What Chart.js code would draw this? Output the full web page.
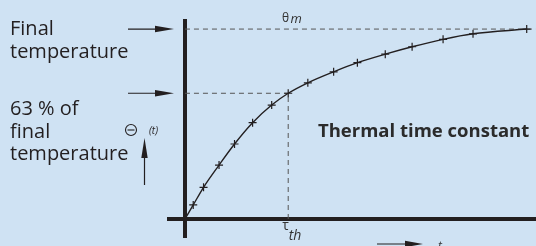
<!DOCTYPE html>
<html>
<head>
<meta charset="utf-8">
<script src="https://cdn.jsdelivr.net/npm/chart.js@4"></script>
<style>
  body { margin: 0; background: #cfe2f3; }
  #wrap { width: 536px; height: 246px; }
</style>
</head>
<body>
<div id="wrap"><canvas id="chart" width="536" height="246"></canvas></div>
<script>
// time in units of tau, temperature as fraction of final value
var times = [0, 0.08, 0.18, 0.33, 0.48, 0.655, 0.84, 1.0, 1.19, 1.44, 1.67, 1.94, 2.2, 2.5, 2.79, 3.31];
var temps = [0, 0.074, 0.167, 0.284, 0.395, 0.507, 0.6, 0.662, 0.717, 0.775, 0.823, 0.868, 0.907, 0.946, 0.975, 1.0];
var tau = 1.0;
var tempAtTau = 0.662;
var finalTemp = 1.0;
var xMin = -0.174, xMax = 3.4;
var yMin = -0.1, yMax = 1.053;

var ink = '#231f20';

function pts(xs, ys) {
    var out = [];
    for (var i = 0; i < xs.length; i++) out.push({ x: xs[i], y: ys[i] });
    return out;
}

function arrow(ctx, x1, y1, x2, y2, head, half) {
    var a = Math.atan2(y2 - y1, x2 - x1);
    ctx.beginPath();
    ctx.moveTo(x1, y1);
    ctx.lineTo(x2 - Math.cos(a) * head * 0.5, y2 - Math.sin(a) * head * 0.5);
    ctx.stroke();
    ctx.beginPath();
    ctx.moveTo(x2, y2);
    ctx.lineTo(x2 - Math.cos(a) * head - Math.sin(a) * half, y2 - Math.sin(a) * head + Math.cos(a) * half);
    ctx.lineTo(x2 - Math.cos(a) * head + Math.sin(a) * half, y2 - Math.sin(a) * head - Math.cos(a) * half);
    ctx.closePath();
    ctx.fill();
}

var labels = {
    id: 'labels',
    afterDraw: function(chart) {
        var ctx = chart.ctx;
        var xs = chart.scales.x, ys = chart.scales.y;
        ctx.save();
        ctx.fillStyle = ink;
        ctx.strokeStyle = ink;
        ctx.textBaseline = 'alphabetic';
        ctx.textAlign = 'left';
        ctx.font = '20px "Open Sans"';
        ctx.fillText('Final', 10, 35);
        ctx.fillText('temperature', 10, 57.5);
        ctx.fillText('63 % of', 10, 115);
        ctx.fillText('final', 10, 137.5);
        ctx.fillText('temperature', 10, 160);

        // arrows pointing at the levels
        ctx.lineWidth = 1.2;
        var yF = ys.getPixelForValue(finalTemp), y63 = ys.getPixelForValue(tempAtTau);
        arrow(ctx, 128, yF, 174, yF, 19, 3.2);
        arrow(ctx, 128, y63, 174, y63, 19, 3.2);
        arrow(ctx, 144.5, 185, 144.5, 138, 20, 3.2);
        arrow(ctx, 377, 244, 423, 244, 18, 3.2);

        // theta(t) symbol
        ctx.lineWidth = 1.1;
        ctx.beginPath();
        ctx.arc(131, 130, 5.5, 0, Math.PI * 2);
        ctx.stroke();
        ctx.beginPath();
        ctx.moveTo(127.5, 130);
        ctx.lineTo(134.5, 130);
        ctx.stroke();
        ctx.font = 'italic 10px "Open Sans"';
        ctx.fillText('(t)', 149, 134);

        ctx.font = 'italic 12px "Open Sans"';
        ctx.fillStyle = '#333';
        ctx.fillText('t', 438, 250);

        // theta m and tau th
        var xT = xs.getPixelForValue(tau);
        ctx.font = '12px "Open Sans"';
        ctx.fillText('\u03b8', 282, 22);
        ctx.font = 'italic 13px "Open Sans"';
        ctx.fillText('m', 290.5, 23);
        ctx.font = '14px "Open Sans"';
        ctx.fillText('\u03c4', xT - 6, 230);
        ctx.font = 'italic 14px "Open Sans"';
        ctx.fillText('th', xT + 0.5, 240);

        ctx.font = 'bold 18.5px "Open Sans"';
        ctx.fillStyle = '#2b2b2b';
        ctx.fillText('Thermal time constant', 318, 137);
        ctx.restore();
    }
};

var zeroOnly = function(scale) { scale.ticks = [{ value: 0 }]; };

new Chart(document.getElementById('chart'), {
    type: 'line',
    data: {
        datasets: [
            { data: pts(times, temps), borderColor: ink, borderWidth: 1.4, cubicInterpolationMode: 'monotone',
              pointStyle: 'cross', pointRadius: 4, pointBorderWidth: 1.2, pointBorderColor: ink },
            { data: pts([0, xMax], [finalTemp, finalTemp]), borderColor: '#555', borderWidth: 1, borderDash: [5, 4], pointRadius: 0 },
            { data: pts([0, tau], [tempAtTau, tempAtTau]), borderColor: '#555', borderWidth: 1, borderDash: [5, 4], pointRadius: 0 },
            { data: pts([tau, tau], [0, tempAtTau]), borderColor: '#555', borderWidth: 1, borderDash: [5, 4], pointRadius: 0 }
        ]
    },
    options: {
        responsive: false,
        animation: false,
        layout: { autoPadding: false, padding: { left: 167, right: 0, top: 19, bottom: 8 } },
        plugins: { legend: { display: false }, tooltip: { enabled: false } },
        scales: {
            x: { type: 'linear', min: xMin, max: xMax, afterBuildTicks: zeroOnly,
                 ticks: { display: false }, grid: { color: ink, lineWidth: 4, drawTicks: false }, border: { display: false } },
            y: { type: 'linear', min: yMin, max: yMax, afterBuildTicks: zeroOnly,
                 ticks: { display: false }, grid: { color: ink, lineWidth: 4, drawTicks: false }, border: { display: false } }
        }
    },
    plugins: [labels]
});
</script>
</body>
</html>
